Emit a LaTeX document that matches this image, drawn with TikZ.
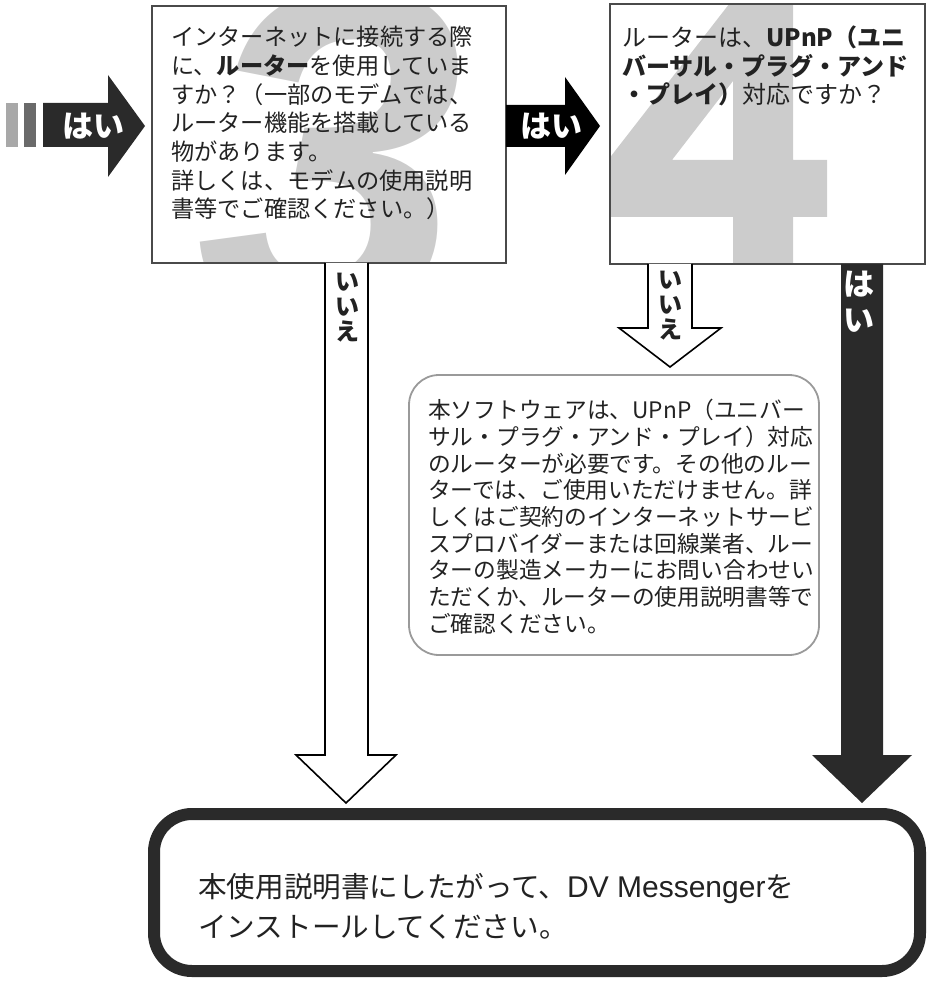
\documentclass[tikz,border=0pt]{standalone}
\usepackage{fontspec}
\setmainfont{Noto Sans CJK JP}
\newfontfamily\digitfont{Liberation Sans}
\usepackage{tikz}
\definecolor{ink}{HTML}{222222}
\definecolor{digitgray}{HTML}{CCCCCC}
\definecolor{boxline}{HTML}{4A4A4A}
\definecolor{darkarrow}{HTML}{2A2A2A}
\definecolor{calloutline}{HTML}{9A9A9A}
\definecolor{barlight}{HTML}{A8A8A8}
\definecolor{bardark}{HTML}{6A6A6A}
\tikzstyle{qbox}=[draw=boxline, line width=2.2pt]
\tikzstyle{qtext}=[inner sep=0pt, anchor=north west, align=left, text=ink]
\tikzstyle{bignum}=[inner sep=0pt, anchor=base west, text=digitgray, font=\digitfont\bfseries\itshape\fontsize{480}{480}\selectfont]
\tikzstyle{hollowarrow}=[draw=black, fill=white, line width=1.6pt, line join=miter]
\tikzstyle{yeslabel}=[inner sep=0pt, text=white, font=\bfseries\fontsize{31}{31}\selectfont]
\tikzstyle{nolabel}=[inner sep=0pt, align=center, text=ink, font=\bfseries\fontsize{24}{25}\selectfont]

\begin{document}
\begin{tikzpicture}[x=1pt,y=-1pt]
    \useasboundingbox (0,0) rectangle (932,981);
    % question 3
    \begin{scope}
        \clip (152,6) rectangle (506,263);
        \node [bignum] (num3) at (196,322) {3};
    \end{scope}
    \draw [qbox] (152,6) rectangle (506,263);
    \node [qtext, font=\fontsize{23.2}{28.7}\selectfont] (q3) at (171,26) {インターネットに接続する際\\に、\textbf{ルーター}を使用していま\\すか？（一部のモデムでは、\\ルーター機能を搭載している\\物があります。\\詳しくは、モデムの使用説明\\書等でご確認ください。）};
    % question 4
    \begin{scope}
        \clip (610,4) rectangle (925,264);
        \fill [digitgray, even odd rule] (608,160) -- (740,-10) -- (793,-10) -- (793,160) -- (827,160) -- (827,217) -- (793,217) -- (793,300) -- (733,300) -- (733,217) -- (600,217) -- (600,160) -- cycle
            (672,160) -- (733,160) -- (733,81) -- cycle;
    \end{scope}
    \draw [qbox] (610,4) rectangle (925,264);
    \node [qtext, font=\fontsize{24}{28.5}\selectfont] (q4) at (622,26) {ルーターは、\textbf{UPnP（ユニ}\\\textbf{バーサル・プラグ・アンド}\\\textbf{・プレイ）}対応ですか？};
    % incoming yes
    \fill [barlight] (6,103) rectangle (18,147);
    \fill [bardark] (24,103) rectangle (36,147);
    \fill [darkarrow] (43,103) -- (108,103) -- (108,75) -- (145,126) -- (108,177) -- (108,147) -- (43,147) -- cycle;
    \node [yeslabel] (yes1) at (93,126) {はい};
    % 3 -> 4
    \fill [black] (506,105) -- (565,105) -- (565,77) -- (600,126) -- (565,175) -- (565,147) -- (506,147) -- cycle;
    \node [yeslabel] (yes3) at (551,126) {はい};
    % no arrows
    \draw [hollowarrow] (325,263) -- (325,755) -- (296,755) -- (346,803) -- (396,755) -- (368,755) -- (368,263);
    \node [nolabel] (no3) at (347,308) {い\\い\\え};
    \draw [hollowarrow] (648,264) -- (648,328) -- (619,328) -- (670,367) -- (721,328) -- (692,328) -- (692,264);
    \node [nolabel] (no4) at (670,306) {い\\い\\え};
    % 4 yes
    \fill [darkarrow] (841,264) -- (841,755) -- (812,755) -- (862,803) -- (912,755) -- (883,755) -- (883,264) -- cycle;
    \node [yeslabel, align=center, font=\bfseries\fontsize{31}{36}\selectfont] (yes4) at (859,302) {は\\い};
    % note
    \draw [calloutline, line width=1.8pt, rounded corners=30] (409,375) rectangle (819,655);
    \node [qtext, font=\fontsize{22.7}{26.7}\selectfont] (note) at (428,399) {本ソフトウェアは、UPnP（ユニバー\\サル・プラグ・アンド・プレイ）対応\\のルーターが必要です。その他のルー\\ターでは、ご使用いただけません。詳\\しくはご契約のインターネットサービ\\スプロバイダーまたは回線業者、ルー\\ターの製造メーカーにお問い合わせい\\ただくか、ルーターの使用説明書等で\\ご確認ください。};
    % install
    \draw [darkarrow, line width=12pt, rounded corners=38] (154,814) rectangle (920,971);
    \node [qtext, font=\fontsize{28.6}{40}\selectfont] (install) at (198,873) {本使用説明書にしたがって、{\digitfont\fontsize{30}{40}\selectfont DV Messenger}を\\インストールしてください。};
\end{tikzpicture}
\end{document}
